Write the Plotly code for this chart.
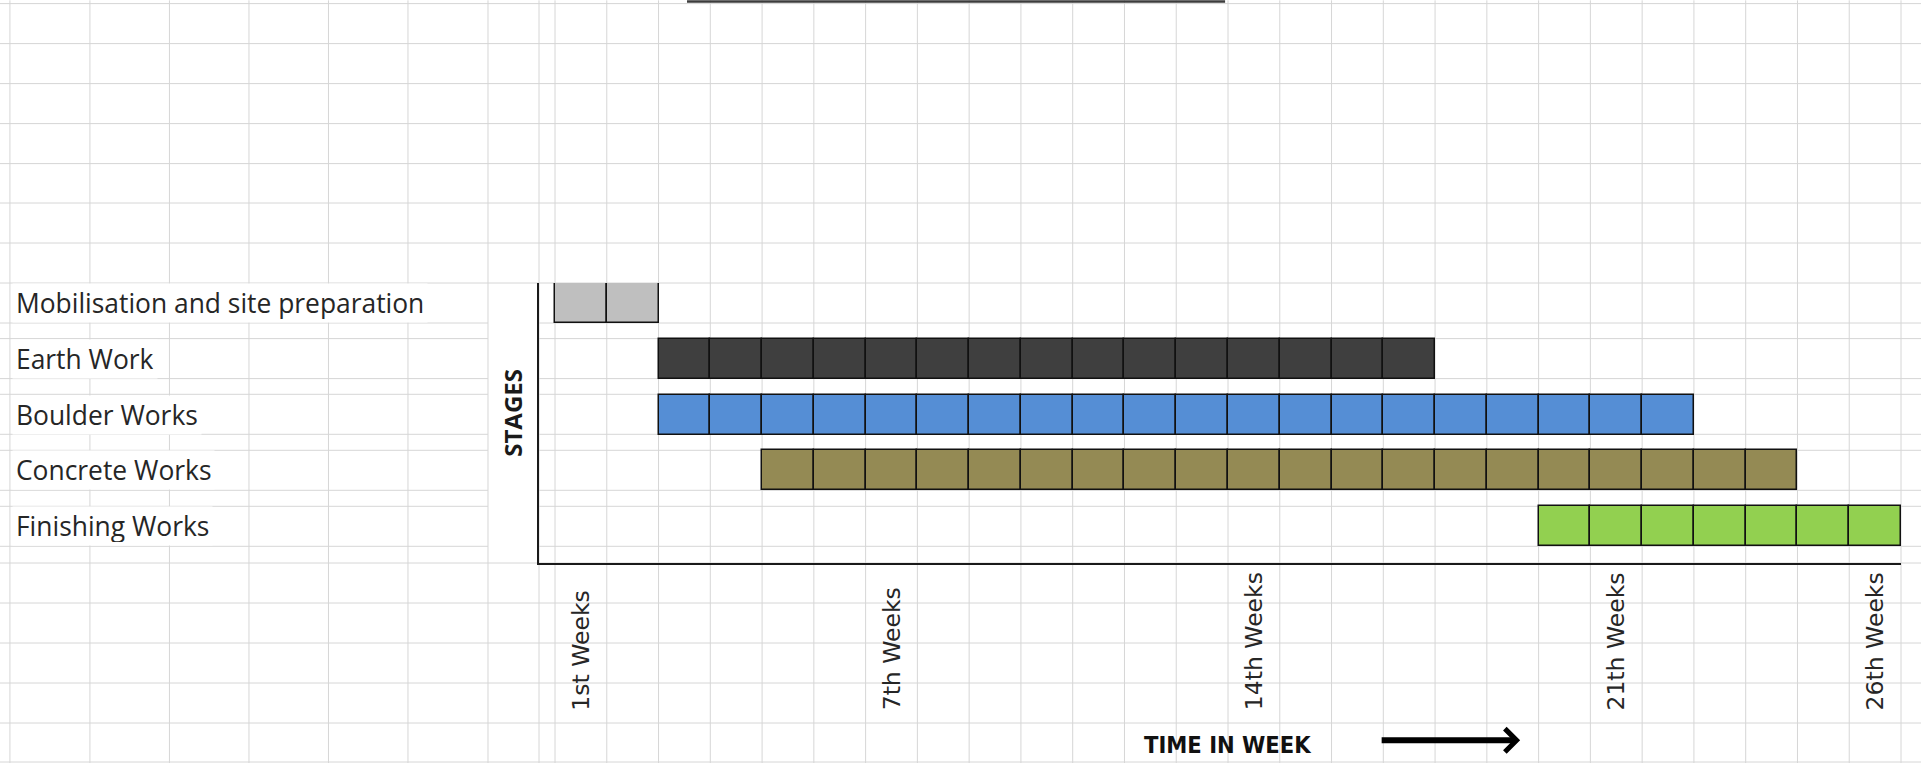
import plotly.graph_objects as go

# ---------------- data ----------------
stages = ["Mobilisation and site preparation", "Earth Work", "Boulder Works",
          "Concrete Works", "Finishing Works"]
start_week = [1, 3, 3, 5, 20]
duration_weeks = [2, 15, 20, 20, 7]
stage_colors = ["#BFBFBF", "#3F3F3F", "#558ED5", "#948A54", "#92D050"]
tick_weeks = [1, 7, 14, 21, 26]
tick_labels = ["1st Weeks", "7th Weeks", "14th Weeks", "21th Weeks", "26th Weeks"]
total_weeks = 26
y_title = "STAGES"
x_title = "TIME IN WEEK"

# ---------------- layout geometry (pixels) ----------------
W, H = 1921, 763
L, R, T, B = 539, 1900.8, 282.7, 562.7
first_cell_px = 555
cell_px = (R - first_cell_px) / total_weeks
x_min = -(first_cell_px - L) / cell_px
row_px = 55.83
y_top = -(302.7 - T) / row_px
y_bot = (len(stages) - 1) + (B - 526) / row_px
bar_thick = 40 / row_px


def px_x(p):
    return (p - L) / (R - L)


def px_y(p):
    return (B - p) / (B - T)


fig = go.Figure()

for name, s, d, c in zip(stages, start_week, duration_weeks, stage_colors):
    weeks = list(range(s, s + d))
    fig.add_trace(go.Bar(
        y=[name] * d,
        x=[1] * d,
        base=[w - 1 for w in weeks],
        orientation="h",
        width=bar_thick,
        marker=dict(color=c, line=dict(color="#111111", width=1.5)),
        name=name,
        showlegend=False,
        hovertemplate=name + "<br>Week %{base}<extra></extra>",
    ))

# ---------------- spreadsheet grid (decoration) ----------------
grid_color = "#D6D6D6"
shapes = []
col_px = [10, 90, 169.5, 249, 328.5, 408, 488, 539, 555] + \
         [first_cell_px + k * cell_px for k in range(1, total_weeks + 1)]
for p in col_px:
    shapes.append(dict(type="line", xref="paper", yref="paper",
                       x0=px_x(p), x1=px_x(p), y0=px_y(0), y1=px_y(H),
                       line=dict(color=grid_color, width=1), layer="below"))
row_lines = [3.3, 43.3, 83.3, 123.3, 163.3, 202.7, 242.7, 282.7, 322.7, 338.3,
             378.3, 394, 434, 450, 490, 506, 546, 562.7, 602.7, 642.7, 682.7,
             722.7, 761.7]
for p in row_lines:
    if T < p < B:
        segs = [(0, 488), (539, W)]
    else:
        segs = [(0, W)]
    for a, b in segs:
        shapes.append(dict(type="line", xref="paper", yref="paper",
                           x0=px_x(a), x1=px_x(b), y0=px_y(p), y1=px_y(p),
                           line=dict(color=grid_color, width=1), layer="below"))
# partially visible title cell border at top
shapes.append(dict(type="rect", xref="paper", yref="paper",
                   x0=px_x(687), x1=px_x(1225), y0=px_y(2.5), y1=px_y(0),
                   fillcolor="#3C3C3C", line=dict(width=0), layer="above"))

annotations = []
# stage labels (spreadsheet cells on the left)
for name in stages:
    annotations.append(dict(
        xref="paper", yref="y", x=px_x(12), y=name, xanchor="left", yanchor="middle",
        text=name, showarrow=False, align="left",
        font=dict(family="Open Sans, Lato, sans-serif", size=26.4, color="#262626"),
        bgcolor="white", borderpad=3, height=32))

# week labels (rotated, bottom aligned)
for w, t in zip(tick_weeks, tick_labels):
    annotations.append(dict(
        xref="x", yref="paper", x=w - 0.5, y=px_y(712), xanchor="center", yanchor="bottom",
        text=t, showarrow=False, textangle=-90,
        font=dict(family="DejaVu Sans, Verdana, sans-serif", size=23.5, color="#262626")))

# axis titles
annotations.append(dict(
    xref="paper", yref="paper", x=px_x(513), y=px_y(412.5), xanchor="center", yanchor="middle",
    text="<b>" + y_title + "</b>", showarrow=False, textangle=-90,
    font=dict(family="Open Sans, sans-serif", size=24, color="#1a1a1a")))
annotations.append(dict(
    xref="paper", yref="paper", x=px_x(1228), y=px_y(745), xanchor="center", yanchor="middle",
    text="<b>" + x_title + "</b>", showarrow=False,
    font=dict(family="DejaVu Sans Condensed, Roboto, sans-serif", size=23.5, color="#111111")))
# arrow
annotations.append(dict(
    xref="paper", yref="paper", x=px_x(1520), y=px_y(740), ax=-140, ay=0,
    text="", showarrow=True, arrowhead=4, arrowwidth=6, arrowsize=0.75,
    arrowcolor="#000000", standoff=0, startstandoff=0))

fig.update_layout(
    width=W, height=H,
    margin=dict(l=L, r=W - R, t=T, b=H - B, pad=0),
    paper_bgcolor="white",
    plot_bgcolor="rgba(0,0,0,0)",
    barmode="overlay",
    bargap=0,
    showlegend=False,
    shapes=shapes,
    annotations=annotations,
    xaxis=dict(range=[x_min, total_weeks], showgrid=False, zeroline=False,
               showticklabels=False, ticks="", showline=True,
               linecolor="#1a1a1a", linewidth=2, fixedrange=True),
    yaxis=dict(type="category", categoryorder="array", categoryarray=stages,
               range=[y_bot, y_top], showgrid=False, zeroline=False,
               showticklabels=False, ticks="", showline=True,
               linecolor="#1a1a1a", linewidth=2, fixedrange=True),
)

fig.write_html("out.html", config={"displayModeBar": False},
               post_script="document.body.style.margin='0px';document.body.style.overflow='hidden';")
